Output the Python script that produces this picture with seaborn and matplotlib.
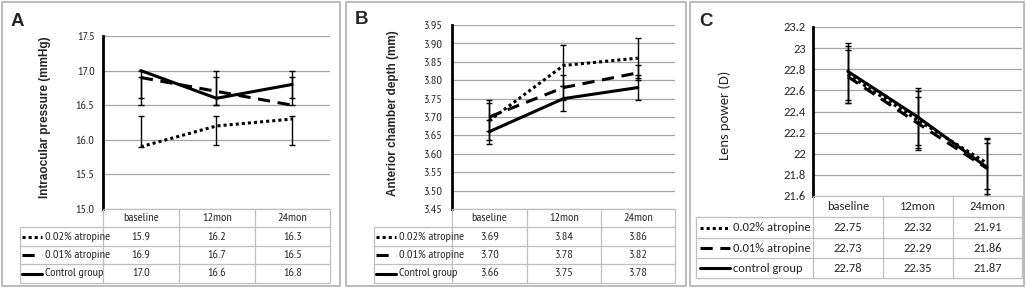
import numpy as np
import pandas as pd
import matplotlib.pyplot as plt
from matplotlib.patches import Rectangle
import seaborn as sns

timepoints = ['baseline', '12mon', '24mon']

# A: intraocular pressure (mmHg)
iop_groups = ['0.02% atropine', '0.01% atropine', 'Control group']
iop_values = [[15.9, 16.2, 16.3], [16.9, 16.7, 16.5], [17.0, 16.6, 16.8]]
iop_lo = [[15.9, 15.92, 15.92], [16.6, 16.5, 16.5], [16.5, 16.5, 16.6]]
iop_hi = [[16.35, 16.35, 16.35], [16.91, 16.91, 16.91], [17.0, 17.0, 17.0]]
iop_ticks = [15.0, 15.5, 16.0, 16.5, 17.0, 17.5]

# B: anterior chamber depth (mm)
acd_groups = ['0.02% atropine', '0.01% atropine', 'Control group']
acd_values = [[3.69, 3.84, 3.86], [3.70, 3.78, 3.82], [3.66, 3.75, 3.78]]
acd_lo = [[3.637, 3.785, 3.805], [3.663, 3.745, 3.80], [3.627, 3.715, 3.745]]
acd_hi = [[3.746, 3.897, 3.916], [3.737, 3.815, 3.84], [3.693, 3.785, 3.815]]
acd_ticks = [3.45, 3.50, 3.55, 3.60, 3.65, 3.70, 3.75, 3.80, 3.85, 3.90, 3.95]

# C: lens power (D)
lp_groups = ['0.02% atropine', '0.01% atropine', 'control group']
lp_values = [[22.75, 22.32, 21.91], [22.73, 22.29, 21.86], [22.78, 22.35, 21.87]]
lp_lo = [[22.48, 22.05, 21.67], [22.48, 22.04, 21.62], [22.51, 22.08, 21.60]]
lp_hi = [[23.02, 22.59, 22.15], [22.98, 22.54, 22.10], [23.05, 22.62, 22.14]]
lp_ticks = [21.6, 21.8, 22.0, 22.2, 22.4, 22.6, 22.8, 23.0, 23.2]

sns.set_style('white')
narrow = ['PT Sans Narrow', 'Roboto Condensed', 'Fira Sans Condensed', 'DejaVu Sans']
calibri = ['Carlito', 'Lato', 'DejaVu Sans']
arial = ['Arimo', 'Liberation Sans', 'DejaVu Sans']
plt.rcParams['font.family'] = narrow

W, H = 1026, 288
fig = plt.figure(figsize=(W / 100, H / 100), dpi=100)

line_dashes = {0: (1, 1), 1: (4, 2.5), 2: ''}
grid_c = '#a6a6a6'
cell_c = '#bfbfbf'


def px_axes(x0, y0, x1, y1):
    return fig.add_axes([x0 / W, 1 - y1 / H, (x1 - x0) / W, (y1 - y0) / H])


def draw_panel(letter, groups, values, lo, hi, ticks, fmt, ylabel, lay, font, fs, yfont, yfs, ybold, pad):
    bx0, by0, bx1, by1 = lay['border']
    fig.add_artist(Rectangle((bx0 / W, 1 - by1 / H), (bx1 - bx0) / W, (by1 - by0) / H,
                             transform=fig.transFigure, fill=False, edgecolor='#b0b0b0', lw=1.2))
    fig.text(lay['letter'][0] / W, 1 - lay['letter'][1] / H, letter, fontsize=13.5,
             fontweight='bold', family=arial, ha='center', va='center')

    px0, py0, px1, py1 = lay['plot']
    ax = px_axes(px0, py0, px1, py1)
    rows = []
    for g, name in enumerate(groups):
        for i, t in enumerate(timepoints):
            rows.append({'pos': i, 'value': values[g][i], 'grp': g})
    df = pd.DataFrame(rows)
    sns.lineplot(data=df, x='pos', y='value', style='grp', dashes=line_dashes,
                 color='black', linewidth=2.2, legend=False, ax=ax, zorder=3)
    x = np.arange(len(timepoints))
    for g in range(len(groups)):
        v = np.array(values[g])
        down = np.clip(v - np.array(lo[g]), 0, None)
        up = np.clip(np.array(hi[g]) - v, 0, None)
        ax.errorbar(x, v, yerr=[down, up], fmt='none',
                    ecolor='black', elinewidth=1.0, capsize=2.5, capthick=1.0, zorder=4)
    ax.set_xlim(-0.5, len(timepoints) - 0.5)
    ax.set_ylim(ticks[0], ticks[-1])
    ax.set_yticks(ticks)
    ax.set_yticklabels([fmt(t) for t in ticks], family=font, fontsize=fs)
    ax.set_xticks([])
    ax.set_xlabel('')
    ax.set_ylabel('')
    ax.tick_params(axis='y', length=0, pad=pad)
    ax.yaxis.grid(True, color=grid_c, lw=0.9)
    ax.set_axisbelow(True)
    for s in ['top', 'right', 'bottom']:
        ax.spines[s].set_visible(False)
    ax.spines['left'].set_color('black')
    ax.spines['left'].set_linewidth(2.0)
    fig.text(lay['ylabel_x'] / W, 1 - lay['ylabel_y'] / H, ylabel, rotation=90,
             ha='center', va='center', fontsize=yfs, fontweight=ybold, family=yfont)

    # data table below the plot
    cols = lay['cols']
    redges = lay['rows']
    tx = px_axes(cols[0], redges[0], cols[-1], redges[-1])
    tx.set_xlim(cols[0], cols[-1])
    tx.set_ylim(redges[-1], redges[0])
    tx.axis('off')
    kw = dict(color=cell_c, lw=0.9, clip_on=False)
    tx.hlines(redges[0], cols[1], cols[-1], **kw)
    tx.hlines(redges[1:], cols[0], cols[-1], **kw)
    tx.vlines(cols[0], redges[1], redges[-1], **kw)
    tx.vlines(cols[1:], redges[0], redges[-1], **kw)
    for i, t in enumerate(timepoints):
        xc = (cols[i + 1] + cols[i + 2]) / 2
        tx.text(xc, (redges[0] + redges[1]) / 2, t, ha='center', va='center',
                family=font, fontsize=fs)
        for g in range(len(groups)):
            label = f'{values[g][i]:.2f}' if letter == 'C' else fmt(values[g][i])
            tx.text(xc, (redges[g + 1] + redges[g + 2]) / 2, label,
                    ha='center', va='center', family=font, fontsize=fs)
    s0, s1 = lay['sample']
    for g, name in enumerate(groups):
        yc = (redges[g + 1] + redges[g + 2]) / 2
        dash = line_dashes[g]
        ln, = tx.plot([cols[0] + s0, cols[0] + s1], [yc, yc], color='black', lw=2.2)
        if dash:
            ln.set_dashes(dash)
        tx.text(cols[0] + s1 + 3, yc, name, ha='left', va='center', family=font, fontsize=fs)


layout_a = dict(border=(2, 2, 340, 286), letter=(17, 21), plot=(103, 36, 330, 209),
                rows=[209, 227, 246, 264, 283], cols=[20, 103, 179, 255, 330],
                ylabel_x=45, ylabel_y=117, sample=(2, 22))
layout_b = dict(border=(346, 2, 686, 286), letter=(362, 20), plot=(452, 25, 675, 209),
                rows=[209, 227, 246, 264, 283], cols=[374, 452, 527, 601, 675],
                ylabel_x=393, ylabel_y=113, sample=(2, 22))
layout_c = dict(border=(690, 2, 1024, 286), letter=(706, 21), plot=(813, 27, 1022, 196),
                rows=[196, 217, 238, 258, 278], cols=[696, 813, 883, 953, 1022],
                ylabel_x=725, ylabel_y=115, sample=(4, 34))

draw_panel('A', iop_groups, iop_values, iop_lo, iop_hi, iop_ticks, lambda v: f'{v:.1f}',
           'Intraocular pressure (mmHg)', layout_a, narrow, 8.8, arial, 8.5, 'bold', 6)
draw_panel('B', acd_groups, acd_values, acd_lo, acd_hi, acd_ticks, lambda v: f'{v:.2f}',
           'Anterior chamber depth (mm)', layout_b, narrow, 8.8, arial, 8.5, 'bold', 7)
draw_panel('C', lp_groups, lp_values, lp_lo, lp_hi, lp_ticks, lambda v: f'{v:g}',
           'Lens power (D)', layout_c, calibri, 9, calibri, 10.5, 'normal', 5)

fig.savefig('out.png', dpi=100)
